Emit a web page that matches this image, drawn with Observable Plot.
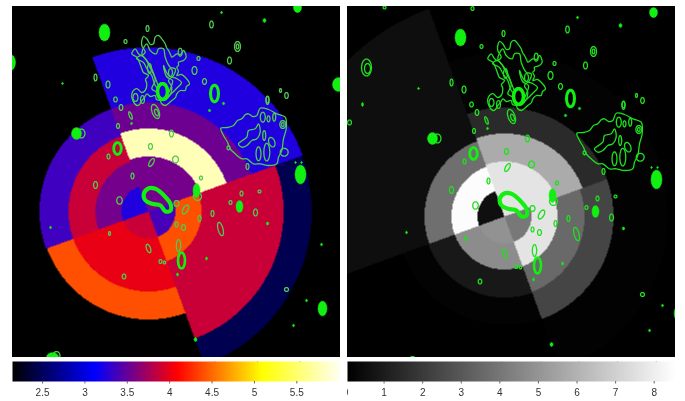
<!DOCTYPE html>
<html><head><meta charset="utf-8">
<script src="https://cdn.jsdelivr.net/npm/d3@7"></script>
<script src="https://cdn.jsdelivr.net/npm/@observablehq/plot@0.6"></script>
<style>
html,body{margin:0;padding:0;background:#fff;width:685px;height:401px;overflow:hidden}
#root{position:relative;width:685px;height:401px}
#root svg{position:absolute;background:transparent}
#root svg.panel{background:#000;filter:blur(.45px)}
#root svg.bar{filter:blur(.3px)}
</style></head><body><div id="root"></div>
<script>
// Sector map: azimuth (deg clockwise from north) where each quadrant starts, sky position of the centre
const quadrantStarts = [340, 70, 160, 250];
const centre = [148, 211];
// [outer radius, value] per quadrant, from the centre outward
const temperatureRings = [
  [[55, 3.52], [83, 5.75], [109, 3.5], [164, 3.2]],
  [[27, 3.35], [53, 4.36], [135, 3.84], [163, 2.42]],
  [[27, 3.84], [80, 3.97], [108, 4.36]],
  [[27, 3.2], [53, 3.52], [80, 3.84], [109, 3.32]]
];
const errorRings = [
  [[55, 7.6], [83, 5.7], [109, 1.4], [164, 0.1]],
  [[27, 4.0], [53, 7.6], [80, 3.5], [109, 2.3], [163, 0.08]],
  [[27, 4.85], [53, 4.65], [81, 0.8], [108, 0.1]],
  [[27, 0.5], [53, 8.4], [80, 3.7], [221, 0.45]]
];
// Colour bars
const temperatureStops = [2.11, 3.08, 4.05, 5.05, 5.98];
const temperatureColors = ["#000000", "#0000ff", "#ff0000", "#ffff00", "#fffff4"];
const temperatureTicks = [2.5, 3, 3.5, 4, 4.5, 5, 5.5];
const errorStops = [0, 8.5];
const errorColors = ["#000000", "#ffffff"];
const errorTicks = [0, 1, 2, 3, 4, 5, 6, 7, 8];
// Radio sources: [x, y, x radius, y radius, tilt]
const filledSources = [
  [104,32,5.5,8.5,0],[297,7,4,5,0],[338,84,6,7,0],[76,133,5,6,0],[300,174,5.5,9.5,0],
  [239,206,3.5,6,0],[322,308,4.5,7.5,0],[52,357,6,5,0],[196,190,3.5,7,0],[264,20,1.5,2,0],
  [221,12,1,1.2,0],[62,83,1,1,0],[223,103,1.2,1.2,0],[209,110,1.2,1.2,0],[131,123,1,1.2,0],
  [50,227,1,1.2,0],[206,258,1,1.5,0],[321,244,1,1.3,0],[306,300,1,1.3,0],[293,325,1,1.3,0],
  [195,339,1.5,2,0],[177,274,1,1.5,0],[267,223,1.2,1.5,0],[6,99,1,2,0],[295,162,.8,1,0],[301,162,.8,1,0]
];
const limbSourceLeft = [[10,62,5,8,0]];
const limbSourceRight = [[10,62,5,8.5,0],[11,63,3,5,0]];
const thickSources = [
  [162,91,5,8,0,3.6],[214,93,4,8.5,0,3],[117,148,3.8,6,0,2.8],[181,260,3.5,8,0,2.6]
];
const thinSources = [
  [81,133,3.5,4.5,0],[147,28,1.5,3,0],[125,41,1.5,2,0],[211,24,1.8,3.5,0],[237,46,3,5,0],[237,46,1.3,2.5,0],
  [229,60,2,3.5,0],[95,77,1.5,3.5,0],[107.5,84,2,3.5,0],[115,99,1.8,2.5,0],[120.5,107,1.8,3,0],
  [130,115,1.3,4,20],[117.5,125.5,1.5,2.5,0],[198,58,1.5,2,0],[194,70,2.5,4,0],[204,81,2,3,0],
  [155,111,3.5,7.5,20],[156,112,1.7,3.5,20],[267,99,1.5,3.5,0],[280,90,1,2,0],[286,95,1.8,3,0],
  [108,156,1.5,2.5,0],[171,133,2,3.5,0],[150,146,2,3,0],[151,162,2,4.5,-30],[175,159,3,3.5,0],
  [132,175.5,1.5,3,0],[95,184.5,2,3.5,0],[200.5,177.5,1.5,2,0],[119,200,2.8,3.8,0],[109,233,1,2,0],
  [148,248,2,4.5,20],[160,261,1.5,2,0],[164,262,1.2,1.5,0],[123.5,276,1.8,2.5,0],[178,245,2.2,6,0],
  [220,228.5,2.5,7,15],[212,213,1.5,3,0],[199,218,1.5,3,0],[183,227,2,3,0],[176,224,1.5,2.5,0],
  [185,209,2.5,5,-30],[176,203,2.5,3,0],[197,196,4,4,0],[230,202,1.5,2,0],[255,212,2,3.5,0],
  [286,289,2,2,0],[247,166,1.5,3,0],[259,191,1.5,1.5,0],[241,193,1.5,2.5,0],
  [56,355,3.5,4,0],[-7,117,2,2.5,0],[28,2,1.5,1.5,0],[116,3,1.5,2,0],[149,68,2,5,0],[170,72,2,4,0],[135,97,2.5,4,0],[142,99,2,4,0],
  [179.7,51.7,2,4,0],[262.3,116.7,2.5,5,0],[268,118.3,1.5,3,0],[273.7,116.7,1.5,4,0],[282.3,124,3,4,0],
  [282.3,124,1.3,2,0],[263.7,135,1.5,5,0],[271.3,141.7,3,5,20],[258,153.3,2.5,7,0],[266.3,151.7,3,9,0],
  [283.7,151.7,4,4,0],[267,100,1.5,4,0],[228,147.3,1.5,2,0]
];
// Radio contours traced as closed outlines
const coreBlob = [[143.3,193.3],[148.3,187.7],[155,188.3],[160,191.7],[165,196.7],[170,203.3],[170,210],[165,211],[160,205],[151.7,203.3],[145,200]];
const northOuter = [[141.3,40],[143,36],[146.3,38.3],[150,44],[153,43.3],[154.7,36.7],[158,35],[161.3,38.3],[164.7,43.3],[166,47],[168,50],[170,54],[171.3,56.7],[176.3,53.3],[180,54],[183,50],[185.7,56.7],[183,60],[178,61.7],[178,65],[176.3,66.7],[178,71],[176.3,75],[181,74],[184.7,76.7],[189,83.3],[186,86],[184.7,90],[180,90],[176.3,93.3],[175,97],[171.3,100],[168,103],[164.7,105],[161,103],[159.7,100],[156,99],[154.7,95],[150,96],[146.3,93.3],[144,97],[141.3,100],[139,104],[136.3,105],[132.3,100],[131.3,93.3],[134,89],[137,88.3],[141,92],[144.7,90],[146.3,83.3],[145,79],[148,75],[143,72],[141.3,68.3],[139,62],[136.3,56.7],[131.3,53.3],[134.7,48.3],[138,53.3],[141,55],[144.7,51.7],[143,48],[141.3,45]];
const northInner = [[146.3,43.3],[149.7,50],[155.7,53.3],[158,48.3],[163,48.3],[164.7,56.7],[169.7,66.7],[174.7,68.3],[173,75],[168,80],[171.3,86.7],[168,96.7],[163,100],[156.3,91.7],[151.3,88.3],[154.7,80],[151.3,68.3],[146.3,60],[141.3,53.3]];
const northLeftChain = [[136,58],[143,62],[146.3,68],[151.3,75],[154.7,85],[158,88],[155,78],[150,68],[146,60],[141,55]];
const northRightChain = [[163,65],[168,75],[176,78],[181,82],[176,88],[171,93],[166,97],[170,88],[172,80],[166,76]];
const eastOuter = [[220.3,127.7],[227,127],[233,125],[237,120],[241.3,118.3],[245,114],[248,113.3],[252,116],[256.3,115],[259.7,107.7],[268,109],[276.3,113.3],[284.7,116.7],[285.7,128.3],[283,138.3],[281.3,150],[278,156.7],[276.3,163.3],[268,165],[259.7,163.3],[253,163.3],[246.3,158.3],[241.3,158.3],[234.7,153.3],[229.7,148.3],[227,141.7],[223,135]];
const eastInner = [[238,143.3],[246.3,136.7],[248,130],[254.7,128.3],[258,123.3],[259.7,131.7],[256.3,138.3],[251.3,140],[246.3,145],[241.3,146.7]];
const contourOutlines = [northOuter, northInner, northLeftChain, northRightChain, eastOuter, eastInner];

function outlineOf(s, id) {
  const [x, y, rx, ry, tilt] = s, t = tilt * Math.PI / 180;
  return d3.range(14).map(i => {
    const a = i / 14 * 2 * Math.PI, u = rx * Math.cos(a), v = ry * Math.sin(a);
    return {id, x: x + u * Math.cos(t) + v * Math.sin(t), y: y - u * Math.sin(t) + v * Math.cos(t)};
  });
}
const outlineRows = (pts, id) => pts.map(([x, y]) => ({id, x, y}));
const filledRows = filledSources.flatMap((s, i) => outlineOf(s, "f" + i));
const thinRows = thinSources.flatMap((s, i) => outlineOf(s, "t" + i));
const contourRows = contourOutlines.flatMap((c, i) => outlineRows(c, "c" + i));

function ringValue(rings, x, y) {
  const dx = x - centre[0], dy = y - centre[1];
  const r = Math.hypot(dx, dy);
  const az = (Math.atan2(dx, -dy) * 180 / Math.PI + 360) % 360;
  const q = ((az - quadrantStarts[0] + 360) % 360) / 90 | 0;
  for (const [outer, v] of rings[q]) if (r <= outer) return v;
  return NaN;
}

function panel(rings, stops, colors, xDomain, yDomain, left, green, sw, limbFilled, limbThin) {
  const limbFillRows = limbFilled.flatMap((s, i) => outlineOf(s, "lf" + i));
  const limbThinRows = limbThin.flatMap((s, i) => outlineOf(s, "lt" + i));
  const svg = Plot.plot({
    width: 328, height: 351, margin: 0,
    x: {domain: xDomain, axis: null}, y: {domain: yDomain, axis: null},
    color: {type: "linear", domain: stops, range: colors, clamp: true},
    marks: [
      Plot.raster({fill: (x, y) => ringValue(rings, x, y), x1: xDomain[0], x2: xDomain[1], y1: yDomain[0], y2: yDomain[1], pixelSize: 1}),
      Plot.line(contourRows, {x: "x", y: "y", z: "id", stroke: green, strokeWidth: sw, curve: "catmull-rom-closed"}),
      Plot.line(thinRows.concat(limbThinRows), {x: "x", y: "y", z: "id", stroke: green, strokeWidth: sw, curve: "linear-closed"}),
      Plot.line(filledRows.concat(limbFillRows), {x: "x", y: "y", z: "id", stroke: "#12f012", fill: "#12f012", strokeWidth: .5, curve: "linear-closed"}),
      ...thickSources.map((s, i) => Plot.line(outlineOf(s, "k" + i), {x: "x", y: "y", z: "id", stroke: "#12f012", strokeWidth: s[5], curve: "linear-closed"})),
      Plot.line(outlineRows(coreBlob, "core"), {x: "x", y: "y", z: "id", stroke: "#12f012", strokeWidth: 4.2, curve: "catmull-rom-closed"})
    ]
  });
  svg.classList.add("panel");
  svg.style.left = left + "px"; svg.style.top = "6px";
  return svg;
}

function bar(stops, colors, domain, ticks, left, dx) {
  const svg = Plot.plot({
    width: 328, height: 40, marginTop: 0, marginLeft: 0, marginRight: 0, marginBottom: 20,
    x: {domain}, y: {domain: [0, 1], axis: null},
    color: {type: "linear", domain: stops, range: colors, clamp: true},
    marks: [
      Plot.raster({fill: (x, y) => x, x1: domain[0], x2: domain[1], y1: 0, y2: 1, pixelSize: 1}),
      Plot.axisX({ticks, tickSize: 2.5, tickPadding: 5, dx, fontSize: 10, label: null, stroke: "#666", fill: "#333", tickFormat: d => String(d), fontFamily: "Liberation Sans"}),
      Plot.ruleX(ticks, {x: d => d, y1: 0.95, y2: 1, stroke: "#999", strokeWidth: .6})
    ]
  });
  svg.classList.add("bar");
  svg.style.left = left + "px"; svg.style.top = "361px";
  return svg;
}

const root = document.getElementById("root");
root.append(
  panel(temperatureRings, temperatureStops, temperatureColors, [12, 340], [357, 6], 12, "#4fcb4f", 1.3, limbSourceLeft, []),
  panel(errorRings, errorStops, errorColors, [-9, 319], [352, 1], 347, "#1fe01f", 1.3, [], limbSourceRight),
  bar(temperatureStops, temperatureColors, [2.11, 5.98], temperatureTicks, 12, -3),
  bar(errorStops, errorColors, [0, 8.5], errorTicks, 347, -2)
);
</script></body></html>
